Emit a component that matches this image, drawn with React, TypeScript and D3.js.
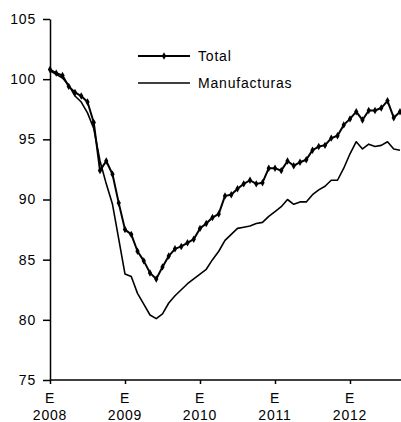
import React, { useRef, useEffect } from 'react';
import * as d3 from 'd3';

// monthly index, 0 = Jan 2008
const yearTicks = [0, 12, 24, 36, 48];
const yearLabels = ['2008', '2009', '2010', '2011', '2012'];
const yTicks = [75, 80, 85, 90, 95, 100, 105];

const total = [
  100.8, 100.5, 100.3, 99.4, 98.9, 98.6, 98.1, 96.4, 92.4, 93.2, 92.1, 89.7,
  87.5, 87.1, 85.7, 84.9, 83.9, 83.4, 84.4, 85.3, 85.9, 86.1, 86.4, 86.7,
  87.6, 88.0, 88.5, 88.8, 90.3, 90.4, 90.9, 91.3, 91.6, 91.3, 91.4, 92.6,
  92.6, 92.4, 93.2, 92.8, 93.1, 93.3, 94.1, 94.4, 94.5, 95.1, 95.3, 96.2,
  96.7, 97.3, 96.6, 97.4, 97.4, 97.6, 98.2, 96.8, 97.3,
];

const manufacturas = [
  100.7, 100.4, 100.1, 99.5, 98.6, 98.1, 97.2, 95.9, 93.2, 91.3, 89.6, 86.7,
  83.8, 83.6, 82.2, 81.3, 80.4, 80.1, 80.5, 81.4, 82.0, 82.5, 83.0, 83.4,
  83.8, 84.2, 85.0, 85.7, 86.6, 87.1, 87.6, 87.7, 87.8, 88.0, 88.1, 88.6,
  89.0, 89.4, 90.0, 89.6, 89.8, 89.8, 90.4, 90.8, 91.1, 91.6, 91.6, 92.6,
  93.8, 94.8, 94.2, 94.6, 94.4, 94.5, 94.8, 94.2, 94.1,
];

const seriesNames = ['Total', 'Manufacturas'];

const W = 401;
const H = 422;
const FONT = '"Liberation Sans", Arial, sans-serif';

const Chart = () => {
  const ref = useRef<SVGSVGElement | null>(null);

  useEffect(() => {
    if (!ref.current) return;
    const svg = d3.select(ref.current);
    svg.selectAll('*').remove();

    const x = d3.scaleLinear().domain([0, 56]).range([50, 400]);
    const y = d3.scaleLinear().domain([75, 105]).range([380, 19]);

    // Y axis
    const yAxis = svg.append('g')
      .attr('transform', `translate(${x(0)},0)`)
      .call(d3.axisLeft(y).tickValues(yTicks).tickSize(7).tickPadding(7).tickSizeOuter(0));
    yAxis.select('.domain').attr('stroke', '#000').attr('stroke-width', 1.5);
    yAxis.selectAll('.tick line').attr('stroke', '#000').attr('stroke-width', 1.5);
    yAxis.selectAll('.tick text')
      .attr('font-family', FONT)
      .attr('font-size', 14)
      .attr('letter-spacing', 0.8)
      .attr('fill', '#000');

    // X axis
    const xAxis = svg.append('g')
      .attr('transform', `translate(0,${y(75)})`)
      .call(d3.axisBottom(x).tickValues(yearTicks).tickSize(4).tickFormat(() => '').tickSizeOuter(0));
    xAxis.select('.domain').attr('d', `M${x(0)},0H${W}`).attr('stroke', '#000').attr('stroke-width', 1.5);
    xAxis.selectAll('.tick line').attr('stroke', '#000').attr('stroke-width', 1.5);

    const lbl = svg.append('g')
      .attr('font-family', FONT)
      .attr('font-size', 14)
      .attr('letter-spacing', 0.8)
      .attr('fill', '#000')
      .attr('text-anchor', 'middle');
    yearTicks.forEach((m, i) => {
      lbl.append('text').attr('x', x(m)).attr('y', 403).text('E');
      lbl.append('text').attr('x', x(m)).attr('y', 420).text(yearLabels[i]);
    });

    const line = d3.line<number>()
      .x((_, i) => x(i))
      .y(d => y(d));

    svg.append('path')
      .datum(manufacturas)
      .attr('fill', 'none')
      .attr('stroke', '#000')
      .attr('stroke-width', 1.6)
      .attr('stroke-linejoin', 'round')
      .attr('d', line);

    svg.append('path')
      .datum(total)
      .attr('fill', 'none')
      .attr('stroke', '#000')
      .attr('stroke-width', 2)
      .attr('stroke-linejoin', 'round')
      .attr('d', line);

    const diamond = d3.symbol().type(d3.symbolDiamond).size(16);
    svg.append('g')
      .selectAll('path')
      .data(total)
      .join('path')
      .attr('transform', (d, i) => `translate(${x(i)},${y(d)})`)
      .attr('d', diamond)
      .attr('fill', '#000');

    // legend
    const legend = svg.append('g');
    const rows = [
      { name: seriesNames[0], yy: 56, w: 2, marker: true },
      { name: seriesNames[1], yy: 83, w: 1.6, marker: false },
    ];
    rows.forEach(r => {
      legend.append('line')
        .attr('x1', 138).attr('x2', 190)
        .attr('y1', r.yy).attr('y2', r.yy)
        .attr('stroke', '#000').attr('stroke-width', r.w);
      if (r.marker) {
        legend.append('path')
          .attr('transform', `translate(164,${r.yy})`)
          .attr('d', diamond)
          .attr('fill', '#000');
      }
      legend.append('text')
        .attr('x', 198).attr('y', r.yy)
        .attr('dy', '0.35em')
        .attr('font-family', FONT)
        .attr('font-size', 14)
        .attr('letter-spacing', 0.8)
        .attr('fill', '#000')
        .text(r.name);
    });
  }, []);

  return (
    <svg
      ref={ref}
      width={W}
      height={H}
      style={{ position: 'absolute', left: 0, top: 0, background: '#fff' }}
    />
  );
};

export default function App() {
  return <Chart />;
}
